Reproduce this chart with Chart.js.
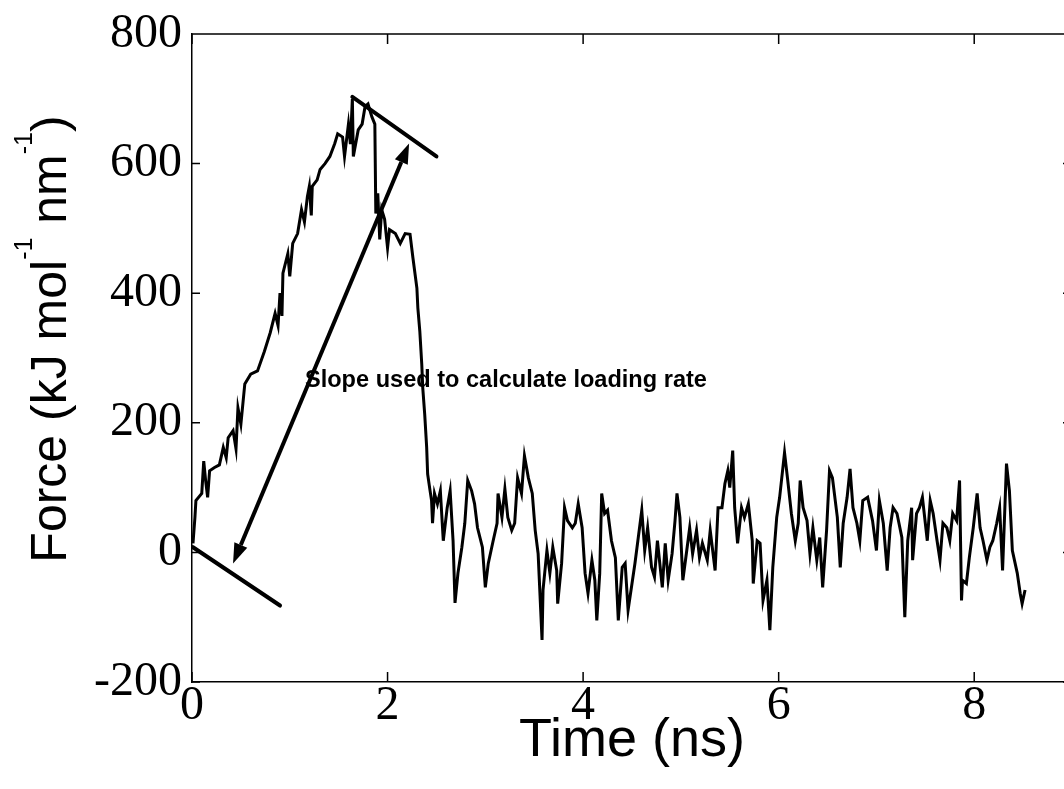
<!DOCTYPE html>
<html>
<head>
<meta charset="utf-8">
<script src="https://cdn.jsdelivr.net/npm/chart.js@4.4.1/dist/chart.umd.min.js"></script>
<style>
  html, body { margin: 0; padding: 0; background: #fff; overflow: hidden; }
  #wrap { width: 1064px; height: 789px; overflow: hidden; }
</style>
</head>
<body>
<div id="wrap"><canvas id="c" width="1080" height="789"></canvas></div>
<script>
// time (ns) and force (kJ mol-1 nm-1)
const time = [
  0.01, 0.03, 0.04, 0.10, 0.12, 0.14, 0.16, 0.18, 0.23, 0.28, 0.32, 0.35, 0.37, 0.42, 0.45, 0.47, 0.50, 0.54, 0.60, 0.67,
  0.74, 0.80, 0.85, 0.88, 0.90, 0.92, 0.93, 0.98, 1.00, 1.03, 1.08, 1.12, 1.15, 1.18, 1.20, 1.22, 1.23, 1.28, 1.31, 1.36,
  1.41, 1.46, 1.49, 1.54, 1.56, 1.60, 1.62, 1.64, 1.65, 1.70, 1.74, 1.77, 1.80, 1.84, 1.87, 1.88, 1.90, 1.92, 1.94, 1.97,
  2.00, 2.02, 2.08, 2.13, 2.18, 2.23, 2.26, 2.30, 2.31, 2.33, 2.35, 2.36, 2.38, 2.40, 2.41, 2.43, 2.45, 2.46, 2.48, 2.51,
  2.54, 2.57, 2.61, 2.64, 2.67, 2.69, 2.72, 2.76, 2.79, 2.82, 2.86, 2.89, 2.92, 2.97, 3.00, 3.03, 3.08, 3.12, 3.13, 3.17,
  3.20, 3.23, 3.27, 3.30, 3.33, 3.37, 3.40, 3.44, 3.48, 3.51, 3.54, 3.58, 3.59, 3.63, 3.66, 3.69, 3.73, 3.74, 3.78, 3.81,
  3.84, 3.89, 3.92, 3.95, 3.99, 4.02, 4.05, 4.09, 4.12, 4.14, 4.17, 4.19, 4.22, 4.25, 4.29, 4.33, 4.36, 4.40, 4.43, 4.46,
  4.50, 4.53, 4.56, 4.60, 4.63, 4.66, 4.70, 4.73, 4.76, 4.81, 4.84, 4.87, 4.91, 4.94, 4.96, 4.99, 5.02, 5.06, 5.09, 5.12,
  5.16, 5.19, 5.22, 5.27, 5.30, 5.35, 5.38, 5.42, 5.45, 5.48, 5.50, 5.53, 5.55, 5.58, 5.62, 5.65, 5.69, 5.73, 5.74, 5.78,
  5.81, 5.84, 5.88, 5.91, 5.94, 5.98, 6.01, 6.06, 6.09, 6.13, 6.17, 6.20, 6.22, 6.25, 6.29, 6.32, 6.35, 6.39, 6.42, 6.45,
  6.49, 6.52, 6.55, 6.60, 6.63, 6.66, 6.70, 6.73, 6.76, 6.80, 6.83, 6.86, 6.91, 6.96, 7.00, 7.03, 7.07, 7.11, 7.14, 7.17,
  7.21, 7.26, 7.29, 7.32, 7.36, 7.37, 7.41, 7.44, 7.47, 7.52, 7.55, 7.58, 7.62, 7.65, 7.68, 7.72, 7.75, 7.78, 7.82, 7.85,
  7.87, 7.88, 7.92, 7.95, 7.99, 8.03, 8.06, 8.09, 8.13, 8.16, 8.19, 8.23, 8.26, 8.29, 8.33, 8.36, 8.39, 8.44, 8.47, 8.49,
  8.52
];
const force = [
  14, 54, 80, 91, 141, 110, 85, 126, 131, 135, 162, 146, 177, 188, 160, 223, 198, 260, 275, 280,
  310, 339, 369, 350, 400, 365, 431, 461, 426, 477, 492, 529, 510, 549, 565, 520, 565, 575, 591, 600,
  611, 631, 646, 641, 611, 661, 630, 700, 611, 652, 661, 688, 692, 672, 661, 523, 554, 483, 529, 514,
  470, 498, 492, 477, 492, 491, 454, 408, 377, 341, 290, 254, 213, 162, 121, 100, 80, 45, 91, 75,
  95, 18, 69, 95, 18, -78, -32, 8, 45, 111, 95, 75, 38, 8, -54, -17, 18, 45, 91, 54,
  98, 54, 34, 45, 115, 91, 149, 115, 91, 34, -2, -135, -58, 3, -32, 8, -28, -79, -17, 69,
  49, 38, 45, 75, 38, -32, -63, -12, -43, -105, -32, 91, 60, 65, 18, -8, -105, -23, -17, -89,
  -48, -17, 18, 65, 3, 38, -23, -38, 18, -54, 14, -43, -2, 49, 91, 54, -43, 3, 38, -2,
  34, -8, 14, -12, 34, -28, 69, 69, 106, 126, 100, 157, 69, 14, 69, 54, 75, 18, -48, 18,
  14, -74, -43, -120, -23, 54, 85, 154, 115, 60, 18, 45, 111, 69, 49, -2, 38, -12, 23, -54,
  34, 126, 115, 54, -23, 45, 85, 129, 69, 45, 18, 80, 85, 49, 3, 80, 45, -28, 38, 69,
  60, 23, -100, 18, 69, -12, 60, 69, 85, 18, 80, 60, 18, -12, 45, 38, 18, 60, 49, 111,
  -74, -43, -48, -8, 38, 91, 38, 18, -12, 8, 18, 45, 69, -28, 137, 95, 3, -32, -63, -79,
  -58
];
const xTicks = [0, 2, 4, 6, 8];
const yTicks = [-200, 0, 200, 400, 600, 800];

// annotation marks, in data units
const tangentStart = [[0.01, 8], [0.90, -82]];
const tangentPeak = [[1.64, 703], [2.50, 611]];
const slopeArrow = [[0.42, -17], [2.22, 631]];
const noteText = 'Slope used to calculate loading rate';
const notePos = [1.155, 265];

const serif = '"Liberation Serif", "Times New Roman", serif';
const sans = '"Liberation Sans", Arial, sans-serif';

const decor = {
  id: 'decor',
  afterDraw(chart) {
    const { ctx, chartArea: a, scales: { x, y } } = chart;
    ctx.save();
    ctx.strokeStyle = '#000';
    ctx.lineWidth = 1.5;
    ctx.beginPath();
    ctx.moveTo(a.left, a.top); ctx.lineTo(a.right, a.top); ctx.lineTo(a.right, a.bottom);
    // inward ticks on all four sides
    xTicks.forEach(v => {
      const px = x.getPixelForValue(v);
      ctx.moveTo(px, a.bottom); ctx.lineTo(px, a.bottom - 10);
      ctx.moveTo(px, a.top); ctx.lineTo(px, a.top + 10);
    });
    yTicks.forEach(v => {
      const py = y.getPixelForValue(v);
      ctx.moveTo(a.left, py); ctx.lineTo(a.left + 8, py);
      ctx.moveTo(a.right, py); ctx.lineTo(a.right - 9, py);
    });
    ctx.stroke();

    // tangents and arrow
    const P = p => [x.getPixelForValue(p[0]), y.getPixelForValue(p[1])];
    ctx.lineWidth = 4;
    ctx.lineCap = 'round';
    [tangentStart, tangentPeak].forEach(seg => {
      const [p0, p1] = seg.map(P);
      ctx.beginPath(); ctx.moveTo(p0[0], p0[1]); ctx.lineTo(p1[0], p1[1]); ctx.stroke();
    });
    const [a0, a1] = slopeArrow.map(P);
    const ang = Math.atan2(a1[1] - a0[1], a1[0] - a0[0]);
    const hl = 20, hw = 7;
    ctx.lineCap = 'butt';
    ctx.beginPath();
    ctx.moveTo(a0[0] + Math.cos(ang) * hl, a0[1] + Math.sin(ang) * hl);
    ctx.lineTo(a1[0] - Math.cos(ang) * hl, a1[1] - Math.sin(ang) * hl);
    ctx.stroke();
    ctx.fillStyle = '#000';
    [[a1, ang], [a0, ang + Math.PI]].forEach(([tip, t]) => {
      const bx = tip[0] - Math.cos(t) * hl, by = tip[1] - Math.sin(t) * hl;
      ctx.beginPath();
      ctx.moveTo(tip[0], tip[1]);
      ctx.lineTo(bx - Math.sin(t) * hw, by + Math.cos(t) * hw);
      ctx.lineTo(bx + Math.sin(t) * hw, by - Math.cos(t) * hw);
      ctx.closePath(); ctx.fill();
    });

    // note
    const np = P(notePos);
    ctx.font = 'bold 24px ' + sans;
    ctx.textBaseline = 'middle';
    ctx.textAlign = 'left';
    ctx.fillText(noteText, np[0], np[1], 402);

    // y axis title with superscripts
    const parts = [
      ['Force (kJ mol', 0], ['-1', 1], [' nm', 0], ['-1', 1], [')', 0]
    ];
    const big = '50px ' + sans, small = '25px ' + sans;
    let total = 0;
    parts.forEach(([t, s]) => { ctx.font = s ? small : big; total += ctx.measureText(t).width; });
    ctx.translate(66, 339);
    ctx.rotate(-Math.PI / 2);
    ctx.textBaseline = 'alphabetic';
    let cx = -total / 2;
    parts.forEach(([t, s]) => {
      ctx.font = s ? small : big;
      ctx.fillText(t, cx, s ? -34 : 0);
      cx += ctx.measureText(t).width;
    });
    ctx.restore();
  }
};

new Chart(document.getElementById('c'), {
  type: 'line',
  data: {
    datasets: [{
      data: time.map((t, i) => ({ x: t, y: force[i] })),
      borderColor: '#000',
      borderWidth: 3,
      pointRadius: 0,
      tension: 0,
      fill: false,
    }],
  },
  options: {
    responsive: false,
    animation: false,
    devicePixelRatio: 1,
    layout: { padding: { top: 32, right: 8, left: 0, bottom: 0 } },
    plugins: { legend: { display: false }, tooltip: { enabled: false } },
    scales: {
      x: {
        type: 'linear',
        min: 0,
        max: 9,
        afterFit: s => { s.height = 107 },
        afterBuildTicks: s => { s.ticks = xTicks.map(v => ({ value: v })) },
        ticks: { font: { family: serif, size: 48, lineHeight: 1 }, color: '#000', padding: 0, maxRotation: 0, autoSkip: false },
        grid: { display: false, drawTicks: false },
        border: { display: true, color: '#000', width: 1.5 },
        title: { display: true, text: 'Time (ns)', color: '#000', font: { family: sans, size: 54, lineHeight: 1 }, padding: { top: 0, bottom: 21 } },
      },
      y: {
        min: -200,
        max: 800,
        afterFit: s => { s.width = 192 },
        afterBuildTicks: s => { s.ticks = yTicks.map(v => ({ value: v })) },
        ticks: { font: { family: serif, size: 48, lineHeight: 1 }, color: '#000', padding: 10, autoSkip: false },
        grid: { display: false, drawTicks: false },
        border: { display: true, color: '#000', width: 1.5 },
      },
    },
  },
  plugins: [decor],
})
</script>
</body>
</html>
